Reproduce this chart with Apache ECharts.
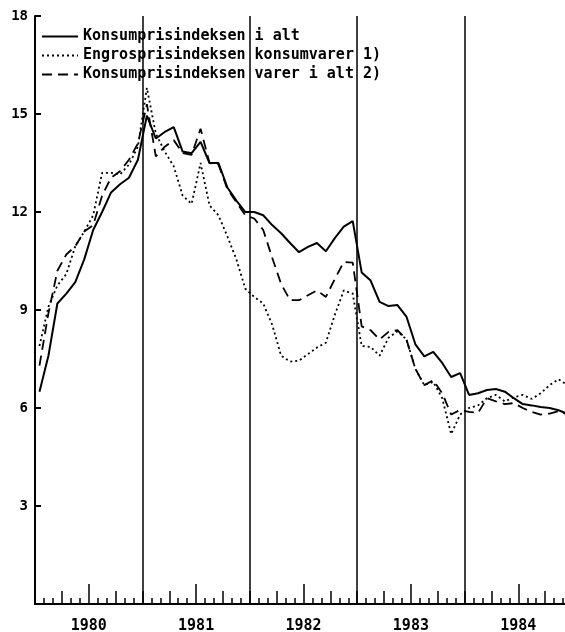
<!DOCTYPE html>
<html>
<head>
<meta charset="utf-8">
<script src="https://cdn.jsdelivr.net/npm/echarts@6/dist/echarts.min.js"></script>
<style>
  html,body{margin:0;padding:0;background:#fff;}
  #main{width:565px;height:632px;}
</style>
</head>
<body>
<div id="main"></div>
<script>
// år og serienavn
let years = [1980, 1981, 1982, 1983, 1984];
let names = ['Konsumprisindeksen i alt', 'Engrosprisindeksen konsumvarer 1)', 'Konsumprisindeksen varer i alt 2)'];
let yTicks = [0, 3, 6, 9, 12, 15, 18];

// månedlige verdier jan 1980 - des 1984
let kpiAlt = [6.5, 7.6, 9.2, 9.5, 9.85, 10.55, 11.45, 12.0, 12.6, 12.85, 13.05, 13.6,
  14.95, 14.25, 14.45, 14.6, 13.85, 13.8, 14.15, 13.5, 13.5, 12.75, 12.35, 12.0,
  12.0, 11.9, 11.6, 11.35, 11.05, 10.77, 10.93, 11.05, 10.8, 11.2, 11.55, 11.72,
  10.15, 9.9, 9.25, 9.12, 9.15, 8.8, 7.95, 7.58, 7.72, 7.38, 6.95, 7.07,
  6.4, 6.45, 6.55, 6.58, 6.5, 6.3, 6.12, 6.08, 6.03, 6.0, 5.93, 5.82];
let engros = [7.9, 9.1, 9.75, 10.1, 10.95, 11.4, 11.9, 13.2, 13.2, 13.15, 13.45, 14.0,
  15.8, 14.4, 13.85, 13.4, 12.5, 12.25, 13.5, 12.2, 11.9, 11.25, 10.55, 9.65,
  9.4, 9.2, 8.55, 7.6, 7.42, 7.45, 7.65, 7.85, 8.0, 8.85, 9.6, 9.5,
  7.9, 7.87, 7.6, 8.15, 8.35, 8.1, 7.2, 6.7, 6.8, 6.3, 5.2, 5.8,
  6.0, 6.08, 6.3, 6.4, 6.2, 6.33, 6.4, 6.28, 6.45, 6.7, 6.88, 6.7];
let kpiVarer = [7.3, 8.9, 10.2, 10.7, 10.95, 11.4, 11.6, 12.5, 13.05, 13.25, 13.6, 14.1,
  15.3, 13.7, 14.0, 14.2, 13.8, 13.75, 14.55, 13.5, 13.45, 12.7, 12.3, 11.9,
  11.8, 11.45, 10.6, 9.8, 9.3, 9.3, 9.45, 9.6, 9.4, 9.95, 10.47, 10.45,
  8.5, 8.38, 8.1, 8.33, 8.38, 8.1, 7.2, 6.7, 6.85, 6.45, 5.8, 5.94,
  5.88, 5.85, 6.3, 6.2, 6.12, 6.15, 6.0, 5.88, 5.8, 5.83, 5.9, 5.8];

let mychart = echarts.init(document.getElementById('main'));

let font = 'DejaVu Sans Mono';
let nMonths = years.length * 12;
// punkt midt i måneden
function toPoints(arr){
  return arr.map(function(v, i){ return [i + 0.5, v]; });
}
let midYears = years.map(function(y, k){ return k * 12 + 6; });
let yearEnds = years.slice(0, -1).map(function(y, k){ return {xAxis: (k + 1) * 12}; });

function legendRow(name, top){
  return {
    data: [name],
    left: 41,
    top: top,
    orient: 'horizontal',
    padding: [1, 2, 1, 0],
    itemWidth: 36,
    itemHeight: 12,
    backgroundColor: '#fff',
    selectedMode: false,
    itemStyle: {opacity: 0, borderWidth: 0},   // bare strek, ingen sirkel
    textStyle: {color: '#000', fontFamily: font, fontSize: 15, fontWeight: 'bold'}
  };
}

function xAx(extra){
  return Object.assign({
    type: 'value',
    position: 'bottom',
    min: 0,
    max: nMonths,
    axisLine: {show: false},
    axisLabel: {show: false},
    splitLine: {show: false},
    axisTick: {show: false}
  }, extra);
}

let option = {
  backgroundColor: '#fff',
  animation: false,
  grid: {left: 35, top: 16, right: -7, bottom: 28, containLabel: false, outerBoundsMode: 'none'},
  legend: [legendRow(names[0], 28), legendRow(names[1], 47), legendRow(names[2], 66)],
  xAxis: [
    // månedsstreker
    xAx({interval: 1,
      axisLine: {show: true, lineStyle: {color: '#000', width: 2}},
      axisTick: {show: true, inside: true, length: 6, lineStyle: {color: '#000', width: 1.5}}}),
    // kvartal
    xAx({interval: 3,
      axisTick: {show: true, inside: true, length: 13, lineStyle: {color: '#000', width: 1.5}}}),
    // midt i året + årstall
    xAx({
      axisTick: {show: true, inside: true, length: 20, customValues: midYears, lineStyle: {color: '#000', width: 1.5}},
      axisLabel: {show: true, customValues: midYears, margin: 15, color: '#000',
        fontFamily: font, fontSize: 15, fontWeight: 'bold',
        formatter: function(v){ return String(years[Math.round((v - 6) / 12)]); }}
    })
  ],
  yAxis: {
    type: 'value',
    min: yTicks[0],
    max: yTicks[yTicks.length - 1],
    interval: 3,
    axisLine: {show: true, lineStyle: {color: '#000', width: 2}},
    axisTick: {show: true, inside: true, length: 6, lineStyle: {color: '#000', width: 2}},
    splitLine: {show: false},
    axisLabel: {color: '#000', fontFamily: font, fontSize: 14, fontWeight: 'bold', margin: 7,
      formatter: function(v){ return v === 0 ? '' : String(v); }}
  },
  series: [
    {
      name: names[0], type: 'line', xAxisIndex: 0, symbol: 'none', silent: true,
      data: toPoints(kpiAlt),
      lineStyle: {color: '#000', width: 2},
      itemStyle: {color: '#000'},
      markLine: {
        silent: true, symbol: 'none', label: {show: false},
        lineStyle: {color: '#000', width: 1.5, type: 'solid'},
        data: yearEnds
      },
      z: 3
    },
    {
      name: names[1], type: 'line', xAxisIndex: 0, symbol: 'none', silent: true,
      data: toPoints(engros),
      lineStyle: {color: '#000', width: 1.8, type: [2, 3]},
      itemStyle: {color: '#000'}
    },
    {
      name: names[2], type: 'line', xAxisIndex: 0, symbol: 'none', silent: true,
      data: toPoints(kpiVarer),
      lineStyle: {color: '#000', width: 1.8, type: [10, 6]},
      itemStyle: {color: '#000'}
    }
  ]
};

mychart.setOption(option);
</script>
</body>
</html>
